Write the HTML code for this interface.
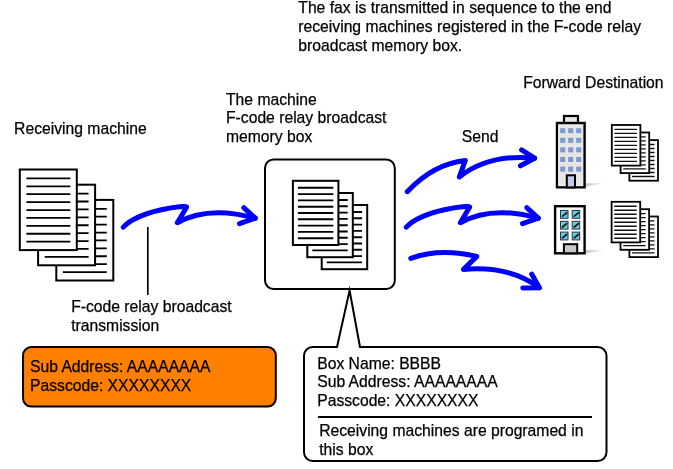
<!DOCTYPE html>
<html><head><meta charset="utf-8">
<style>
html,body{margin:0;padding:0;background:#fff;}
body{width:673px;height:469px;overflow:hidden;}
svg{display:block;will-change:transform;}
text{font-family:"Liberation Sans",sans-serif;font-size:15.7px;fill:#000;stroke:#000;stroke-width:0.25px;}
</style></head><body>
<svg width="673" height="469" viewBox="0 0 673 469">
<defs>
  <g id="doc">
    <rect x="0" y="0" width="57" height="80.6" fill="#fff" stroke="#000" stroke-width="2"/>
    <path d="M6.6 8.90H50.5M6.6 16.81H50.5M6.6 24.72H50.5M6.6 32.63H50.5M6.6 40.54H50.5M6.6 48.45H50.5M6.6 56.36H50.5M6.6 64.27H50.5M6.6 72.18H50.5" stroke="#000" stroke-width="1.8"/>
  </g>
  <g id="mdoc">
    <rect x="0" y="0" width="45.5" height="64.2" fill="#fff" stroke="#000" stroke-width="2"/>
    <path d="M5 7.00H40.4M5 13.30H40.4M5 19.60H40.4M5 25.90H40.4M5 32.20H40.4M5 38.50H40.4M5 44.80H40.4M5 51.10H40.4M5 57.40H40.4" stroke="#000" stroke-width="1.9"/>
  </g>
  <linearGradient id="shd" x1="0" x2="1" y1="0" y2="0">
    <stop offset="0" stop-color="#c6c6c6"/>
    <stop offset="1" stop-color="#c6c6c6" stop-opacity="0"/>
  </linearGradient>
</defs>

<!-- top text -->
<text x="298.3" y="12.8">The fax is transmitted in sequence to the end</text>
<text x="298.3" y="32.2">receiving machines registered in the F-code relay</text>
<text x="298.3" y="50.7">broadcast memory box.</text>

<text x="523.2" y="88">Forward Destination</text>

<text x="226" y="104.6">The machine</text>
<text x="226" y="123.4">F-code relay broadcast</text>
<text x="226" y="142.2">memory box</text>

<text x="14.1" y="133.8">Receiving machine</text>
<text x="461.8" y="141.9">Send</text>

<text x="71.2" y="312">F-code relay broadcast</text>
<text x="71.2" y="330.9">transmission</text>

<!-- left docs -->
<g transform="translate(56.3,199.9)"><use href="#doc"/></g>
<g transform="translate(38.1,184.7)"><use href="#doc"/></g>
<g transform="translate(19.8,169.5)"><use href="#doc"/></g>

<!-- leader line -->
<path d="M147.8 227V295" stroke="#000" stroke-width="1.7"/>

<!-- machine box -->
<rect x="265" y="159.5" width="129.8" height="129.5" rx="8.5" fill="#fff" stroke="#000" stroke-width="2"/>
<g transform="translate(321.7,205.0)"><use href="#mdoc"/></g>
<g transform="translate(307.3,193.0)"><use href="#mdoc"/></g>
<g transform="translate(292.9,180.8)"><use href="#mdoc"/></g>

<!-- arrows -->
<g fill="none" stroke="#0000ff" stroke-width="5" stroke-linecap="round" stroke-linejoin="round">
  <g id="arr0">
    <path d="M123.3 227.1C139.4 210.1 187.7 204.5 186.6 207.2L177.3 222.7Q208.5 205.2 255.3 218.2"/>
    <path d="M243.8 207.6L255.3 218.2L239.5 223.6"/>
  </g>
  <use href="#arr0" transform="translate(283,0)"/>
  <path d="M407.2 191.7Q433.3 163.8 465.3 160.4L459.3 177Q489.3 153.6 534.6 158.2"/>
  <path d="M521.6 149.8L534.6 158.2L520.4 165.8"/>
  <path d="M410.8 258.3Q440 247.7 476.8 256.4L463.5 269.4Q509.7 265.5 539.4 287.7"/>
  <path d="M531.7 274.1L539.4 287.7L522.8 288"/>
</g>

<!-- building 1 -->
<polygon points="586,183.3 605.5,183 586,186.6" fill="url(#shd)"/>
<rect x="564" y="116" width="14" height="8" fill="#e8e8e8" stroke="#000" stroke-width="2.2"/>
<rect x="557" y="123" width="27.6" height="64.3" fill="#e6e6e6" stroke="#000" stroke-width="2.4"/>
<path d="M558.9 124.6V185.6H583" fill="none" stroke="#f6f6f6" stroke-width="1"/>
<g fill="#7b98d2">
  <rect x="560.2" y="128.2" width="5" height="5"/><rect x="568.2" y="128.2" width="5" height="5"/><rect x="576.2" y="128.2" width="5" height="5"/>
  <rect x="560.2" y="137.8" width="5" height="5"/><rect x="568.2" y="137.8" width="5" height="5"/><rect x="576.2" y="137.8" width="5" height="5"/>
  <rect x="560.2" y="147.4" width="5" height="5"/><rect x="568.2" y="147.4" width="5" height="5"/><rect x="576.2" y="147.4" width="5" height="5"/>
  <rect x="560.2" y="157" width="5" height="5"/><rect x="568.2" y="157" width="5" height="5"/><rect x="576.2" y="157" width="5" height="5"/>
  <rect x="560.2" y="166.6" width="5" height="5"/><rect x="568.2" y="166.6" width="5" height="5"/><rect x="576.2" y="166.6" width="5" height="5"/>
</g>
<rect x="566.8" y="175.3" width="8.2" height="12.1" fill="#c0cce8" stroke="#000" stroke-width="2"/>

<!-- building 2 -->
<polygon points="586,249.8 606.5,250.2 586,253.2" fill="url(#shd)"/>
<rect x="555.1" y="206.2" width="29.5" height="47.1" fill="#fff" stroke="#000" stroke-width="2.4"/>
<g fill="#60cbea" stroke="#333" stroke-width="1">
  <rect x="560.5" y="210.5" width="7.5" height="7.8"/><rect x="572.2" y="210.5" width="7.5" height="7.8"/>
  <rect x="560.5" y="221.3" width="7.5" height="7.8"/><rect x="572.2" y="221.3" width="7.5" height="7.8"/>
  <rect x="560.5" y="232.1" width="7.5" height="7.8"/><rect x="572.2" y="232.1" width="7.5" height="7.8"/>
</g>
<g stroke="#111" stroke-width="1.7" stroke-linecap="round" fill="none">
  <path d="M562.6 216.2L566.6 212.9M574.3 216.2L578.3 212.9M562.6 227.0L566.6 223.7M574.3 227.0L578.3 223.7M562.6 237.8L566.6 234.5M574.3 237.8L578.3 234.5"/>
</g>
<rect x="563.9" y="244.2" width="13.3" height="9.1" fill="#c8c8c8" stroke="#000" stroke-width="2"/>

<!-- right docs -->
<defs>
  <g id="sdoc">
    <rect x="0" y="0" width="28.6" height="40.6" fill="#fff" stroke="#000" stroke-width="1.8"/>
    <path d="M3.2 4.4H24.6M3.2 8.4H24.6M3.2 12.4H24.6M3.2 16.4H24.6M3.2 20.4H24.6M3.2 24.4H24.6M3.2 28.4H24.6M3.2 32.4H24.6M3.2 36.4H24.6" stroke="#111" stroke-width="1.4" stroke-linecap="round"/>
  </g>
</defs>
<g transform="translate(629.4,140.1)"><use href="#sdoc"/></g>
<g transform="translate(620.6,132.5)"><use href="#sdoc"/></g>
<g transform="translate(611.8,125)"><use href="#sdoc"/></g>
<g transform="translate(629.4,216.5)"><use href="#sdoc"/></g>
<g transform="translate(620.5,209.2)"><use href="#sdoc"/></g>
<g transform="translate(611.6,201.8)"><use href="#sdoc"/></g>

<!-- orange box -->
<rect x="23.05" y="347" width="252.75" height="59.6" rx="8.3" fill="#ff8000" stroke="#000" stroke-width="2"/>
<text x="30" y="372.1">Sub Address: AAAAAAAA</text>
<text x="30" y="390.5">Passcode: XXXXXXXX</text>

<!-- callout -->
<path d="M337 347L349.6 290.6L360 347H597.7A8.8 8.8 0 0 1 606.5 355.8V452.2A8.8 8.8 0 0 1 597.7 461H312.8A8.8 8.8 0 0 1 304 452.2V355.8A8.8 8.8 0 0 1 312.8 347Z" fill="#fff" stroke="#000" stroke-width="2" stroke-linejoin="miter" stroke-miterlimit="20"/>
<text x="317.2" y="368.7">Box Name: BBBB</text>
<text x="317.2" y="387.2">Sub Address: AAAAAAAA</text>
<text x="317.2" y="405.7">Passcode: XXXXXXXX</text>
<path d="M318.1 416.9H592" stroke="#000" stroke-width="2"/>
<text x="319.2" y="436.3">Receiving machines are programed in</text>
<text x="319.2" y="455.3">this box</text>
</svg>
</body></html>
